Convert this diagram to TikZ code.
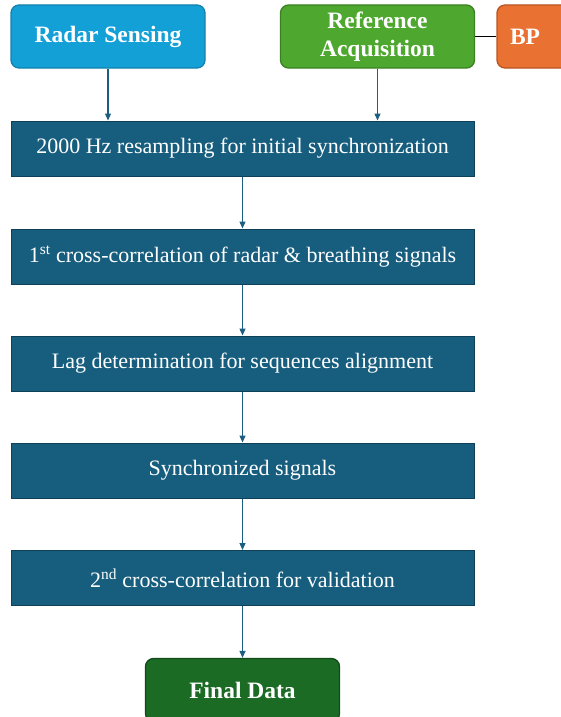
\documentclass[tikz,border=0pt]{standalone}
\usepackage{fontspec}
\setmainfont{Liberation Serif}
\usetikzlibrary{arrows.meta}
\definecolor{radarblue}{HTML}{12A0D6}
\definecolor{radarline}{HTML}{1581AE}
\definecolor{refgreen}{HTML}{4EA72E}
\definecolor{refline}{HTML}{3B8023}
\definecolor{bporange}{HTML}{E97132}
\definecolor{bpline}{HTML}{B95420}
\definecolor{stepfill}{HTML}{175E7E}
\definecolor{stepline}{HTML}{0E4058}
\definecolor{finalgreen}{HTML}{1B6B25}
\definecolor{finalline}{HTML}{124A19}
\definecolor{arrowcol}{HTML}{1B5E80}

\begin{document}
\begin{tikzpicture}[x=1pt, y=-1pt,
    source/.style={rounded corners=8pt, line width=1.3pt, minimum width=194pt, minimum height=63pt,
        text=white, font=\fontsize{23.5}{28.5}\selectfont\bfseries, align=center, inner sep=0pt},
    stepbox/.style={draw=stepline, fill=stepfill, line width=1pt, minimum width=463pt, minimum height=55pt,
        text=white, font=\fontsize{22}{26}\selectfont, inner sep=0pt},
    flow/.style={draw=arrowcol, line width=1.2pt, -{Triangle[length=7pt, width=6pt]}}]
        \useasboundingbox (0,0) rectangle (561,717);

        \node[source, draw=radarline, fill=radarblue] (radar) at (108, 36.5) {Radar Sensing};
        \node[source, draw=refline, fill=refgreen] (ref) at (377.5, 36.5) {Reference\\Acquisition};
        \node[source, draw=bpline, fill=bporange, minimum width=80pt, text width=60pt, align=left] (bp) at (537, 36.5) {\hspace*{3pt}BP};

        \node[stepbox] (resample) at (242.5, 148.5) {2000 Hz resampling for initial synchronization};
        \node[stepbox] (xcorr1) at (242.5, 256.5) {1\textsuperscript{st} cross-correlation of radar \& breathing signals};
        \node[stepbox] (lag) at (242.5, 363.5) {Lag determination for sequences alignment};
        \node[stepbox] (sync) at (242.5, 470.5) {Synchronized signals};
        \node[stepbox] (xcorr2) at (242.5, 578) {2\textsuperscript{nd} cross-correlation for validation};

        \node[source, draw=finalline, fill=finalgreen] (final) at (242.5, 690) {Final Data};

        \draw[line width=1.3pt] (ref) -- (bp);
        \draw[flow] (radar) -- (radar |- resample.north);
        \draw[flow] (ref) -- (ref |- resample.north);
        \draw[flow] (resample) -- (xcorr1);
        \draw[flow] (xcorr1) -- (lag);
        \draw[flow] (lag) -- (sync);
        \draw[flow] (sync) -- (xcorr2);
        \draw[flow] (xcorr2) -- (final);
    \end{tikzpicture}
\end{document}
